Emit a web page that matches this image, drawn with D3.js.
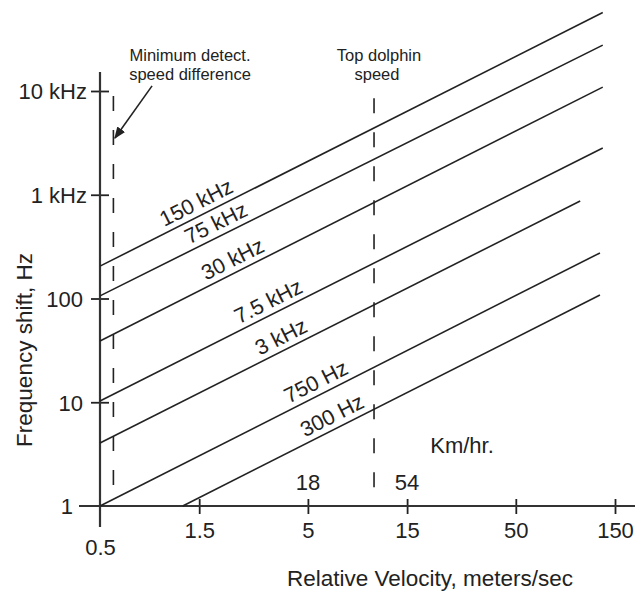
<!DOCTYPE html>
<html>
<head>
<meta charset="utf-8">
<script src="https://cdn.jsdelivr.net/npm/d3@7"></script>
<style>
  html, body { margin: 0; padding: 0; background: #fff; }
  svg { display: block; }
  text { font-family: "Liberation Sans", Arial, Helvetica, sans-serif; fill: #222; }
</style>
</head>
<body>
<script>
// ---- Data ----
const lineNames   = ["150 kHz", "75 kHz", "30 kHz", "7.5 kHz", "3 kHz", "750 Hz", "300 Hz"];
const startVel    = [0.5, 0.5, 0.5, 0.5, 0.5, 0.5, 1.25];      // m/s
const startShift  = [205, 106, 39, 10.3, 4.05, 1, 1];          // Hz
const endVel      = [131, 131, 131, 131, 102, 127, 127];       // m/s
const endShift    = [57000, 27700, 10900, 2820, 871, 275, 108]; // Hz
const labelVel    = [1.55, 1.93, 2.32, 3.44, 3.97, 5.84, 6.98]; // where each label sits

const xTickValues = [0.5, 1.5, 5, 15, 50, 150];
const xTickLabels = ["0.5", "1.5", "5", "15", "50", "150"];
const yTickValues = [1, 10, 100, 1000, 10000];
const yTickLabels = ["1", "10", "100", "1 kHz", "10 kHz"];

const kmhValues   = [5, 15];          // m/s positions of the km/hr labels
const kmhLabels   = ["18", "54"];

const refNames    = ["minimum", "dolphin"];
const refVel      = [0.58, 10.4];     // m/s of the dashed reference lines
const refLow      = [1.42, 1.42];     // Hz
const refHigh     = [8970, 8500];     // Hz

const arrowFrom   = [0.89, 11200];    // [m/s, Hz]
const arrowTo     = [0.59, 3520];

// ---- Layout ----
const W = 641, H = 592;
const svg = d3.select("body").append("svg").attr("width", W).attr("height", H);

const x = d3.scaleLog().domain([0.5, 150]).range([100, 615]);
const y = d3.scaleLog().domain([1, 10000]).range([506, 91]);

const ink = "#222";

// defs: arrow head
svg.append("defs").append("marker")
  .attr("id", "ah").attr("viewBox", "0 0 10 10")
  .attr("refX", 9).attr("refY", 5)
  .attr("markerWidth", 12).attr("markerHeight", 12)
  .attr("markerUnits", "userSpaceOnUse")
  .attr("orient", "auto")
  .append("path").attr("d", "M0,1 L10,5 L0,9 Z").attr("fill", ink);

// ---- Axes ----
const gx = svg.append("g").attr("transform", `translate(0,${y(1)})`)
  .call(d3.axisBottom(x).tickValues(xTickValues).tickFormat((d, i) => xTickLabels[i]).tickSize(8));
gx.select(".domain").remove();
gx.selectAll(".tick line").attr("y1", -7).attr("y2", 8).attr("stroke", ink).attr("stroke-width", 1.8);
gx.selectAll(".tick text")
  .attr("dy", 0)
  .attr("y", (d) => d === 0.5 ? 49 : 32)
  .attr("font-size", 22).attr("fill", ink)
  .style("font-family", '"Liberation Sans", Arial, sans-serif');
gx.selectAll(".tick").filter(d => d === 0.5).select("line").remove();

const gy = svg.append("g").attr("transform", `translate(${x(0.5)},0)`)
  .call(d3.axisLeft(y).tickValues(yTickValues).tickFormat((d, i) => yTickLabels[i]).tickSize(9));
gy.select(".domain").remove();
gy.selectAll(".tick line").attr("x1", -9).attr("x2", 9).attr("stroke", ink).attr("stroke-width", 1.8);
gy.selectAll(".tick").filter(d => d === 1).select("line").remove();
gy.selectAll(".tick text")
  .attr("x", (d) => d === 1 ? -27 : (d >= 1000 ? -13 : -17))
  .attr("dy", "0.36em")
  .attr("font-size", 22).attr("fill", ink)
  .style("font-family", '"Liberation Sans", Arial, sans-serif');

// axis lines (extended past the corner as in the reference)
svg.append("line").attr("x1", 79).attr("x2", 635).attr("y1", y(1)).attr("y2", y(1))
  .attr("stroke", "#333").attr("stroke-width", 2.2);
svg.append("line").attr("x1", x(0.5)).attr("x2", x(0.5)).attr("y1", 72).attr("y2", 527)
  .attr("stroke", "#333").attr("stroke-width", 2.2);

// ---- Dashed reference lines ----
svg.append("g").selectAll("line").data(refNames).join("line")
  .attr("x1", (d, i) => x(refVel[i])).attr("x2", (d, i) => x(refVel[i]))
  .attr("y1", (d, i) => y(refHigh[i])).attr("y2", (d, i) => y(refLow[i]))
  .attr("stroke", ink).attr("stroke-width", 1.6)
  .attr("stroke-dasharray", "15,19");

// ---- Frequency lines ----
const lineGen = d3.line().x(d => x(d[0])).y(d => y(d[1]));
svg.append("g").selectAll("path").data(lineNames).join("path")
  .attr("d", (d, i) => lineGen([[startVel[i], startShift[i]], [endVel[i], endShift[i]]]))
  .attr("fill", "none").attr("stroke", ink).attr("stroke-width", 1.6);

// ---- Line labels ----
svg.append("g").selectAll("text").data(lineNames).join("text")
  .attr("transform", (d, i) => {
    const lv0 = Math.log(startVel[i]), lv1 = Math.log(endVel[i]);
    const lf0 = Math.log(startShift[i]), lf1 = Math.log(endShift[i]);
    const t = (Math.log(labelVel[i]) - lv0) / (lv1 - lv0);
    const f = Math.exp(lf0 + t * (lf1 - lf0));
    const px = x(labelVel[i]), py = y(f);
    const ang = Math.atan2(y(endShift[i]) - y(startShift[i]), x(endVel[i]) - x(startVel[i])) * 180 / Math.PI;
    return `translate(${px},${py}) rotate(${ang})`;
  })
  .attr("y", -6)
  .attr("text-anchor", "middle")
  .attr("font-size", 21.5)
  .text(d => d);

// ---- Annotations ----
const ann = svg.append("g").attr("font-size", 16.5).attr("text-anchor", "middle");
ann.append("text").attr("x", 190).attr("y", 61).text("Minimum detect.");
ann.append("text").attr("x", 190).attr("y", 80).text("speed difference");
ann.append("text").attr("x", 379).attr("y", 61).text("Top dolphin");
ann.append("text").attr("x", 377).attr("y", 80).text("speed");

svg.append("line")
  .attr("x1", x(arrowFrom[0])).attr("y1", y(arrowFrom[1]))
  .attr("x2", x(arrowTo[0])).attr("y2", y(arrowTo[1]))
  .attr("stroke", ink).attr("stroke-width", 1.6)
  .attr("marker-end", "url(#ah)");

// km/hr secondary labels
svg.append("g").selectAll("text").data(kmhLabels).join("text")
  .attr("x", (d, i) => x(kmhValues[i])).attr("y", 490)
  .attr("text-anchor", "middle").attr("font-size", 22)
  .text(d => d);
svg.append("text").attr("x", 462).attr("y", 453).attr("text-anchor", "middle")
  .attr("font-size", 22).text("Km/hr.");

// ---- Axis titles ----
svg.append("text").attr("x", 430).attr("y", 586).attr("text-anchor", "middle")
  .attr("font-size", 22.5).text("Relative Velocity, meters/sec");
svg.append("text").attr("transform", "translate(32,350) rotate(-90)")
  .attr("text-anchor", "middle").attr("font-size", 22.5).text("Frequency shift, Hz");
</script>
</body>
</html>
